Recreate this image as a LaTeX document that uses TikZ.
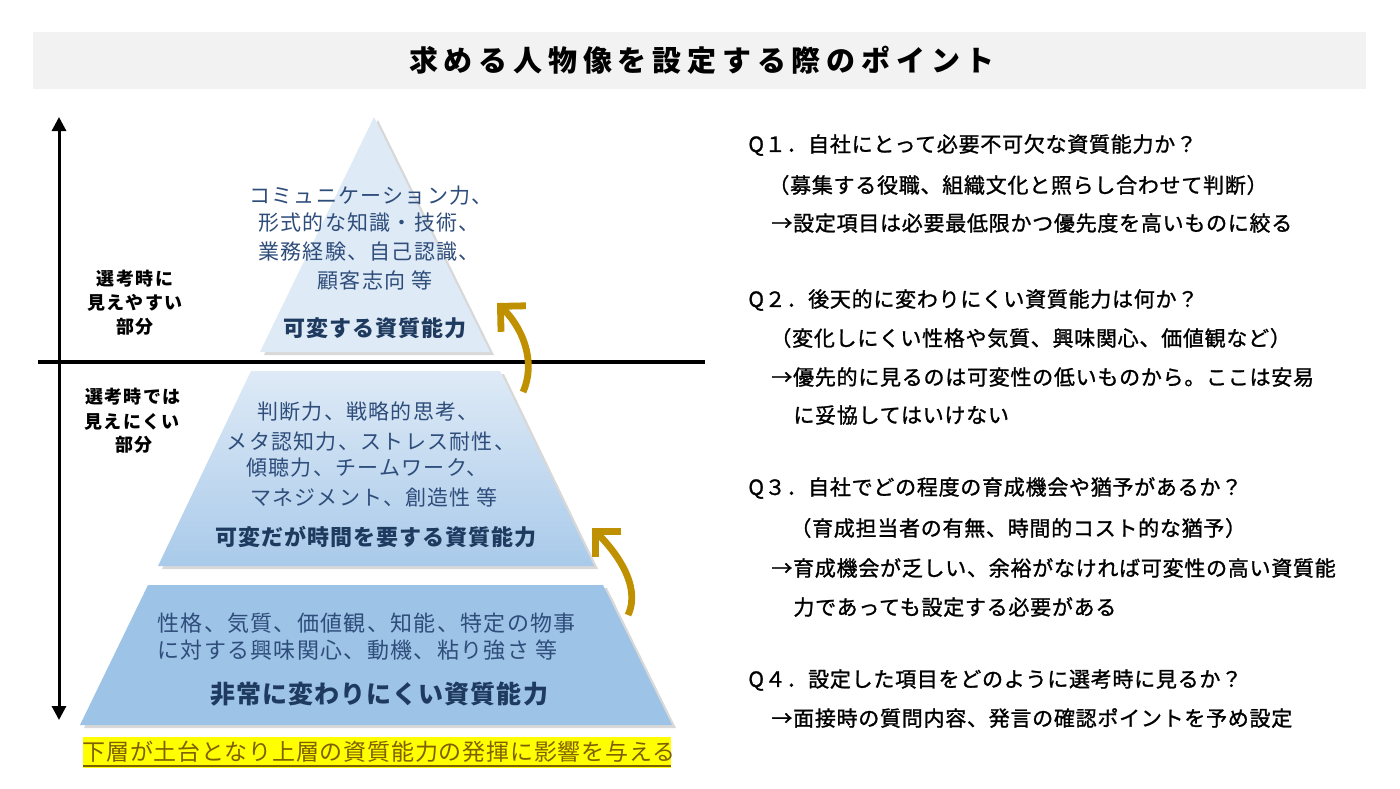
\documentclass[tikz,border=0pt]{standalone}
\usepackage{fontspec}
\setmainfont{Noto Sans CJK JP}
\newfontfamily\jpQ{Noto Sans CJK JP}[LetterSpace=3.5,FakeBold=1.2]
\newfontfamily\jpP{Noto Sans CJK JP}[LetterSpace=6]
\newfontfamily\jpB{Noto Sans CJK JP}[LetterSpace=4.5]
\newfontfamily\jpT{Noto Sans CJK JP}[LetterSpace=20]
\newfontfamily\jpL{Noto Sans CJK JP}[LetterSpace=8]
\newfontfamily\jpY{Noto Sans CJK JP}[LetterSpace=3.5]
\usetikzlibrary{arrows.meta,shadows}
\definecolor{titlebg}{HTML}{F2F2F2}
\definecolor{pyrA}{HTML}{DEEAF6}
\definecolor{pyrB}{HTML}{A9CAEA}
\definecolor{pyrC}{HTML}{9DC3E6}
\definecolor{listtxt}{HTML}{2E4D7B}
\definecolor{boldtxt}{HTML}{1F3A5F}
\definecolor{goldarrow}{HTML}{BF9000}
\definecolor{hltxt}{HTML}{7F6000}
\definecolor{hlbg}{HTML}{FFFF00}
\tikzset{
  qtxt/.style={anchor=west, inner sep=0pt, font=\jpQ\fontsize{10.5}{12}\selectfont},
  listtxt/.style={inner sep=0pt, text=listtxt, font=\jpP\fontsize{10.5}{12}\selectfont},
  listtxtb/.style={inner sep=0pt, text=listtxt, font=\jpP\fontsize{11}{13}\selectfont},
  leveltxt/.style={inner sep=0pt, text=boldtxt, font=\jpB\bfseries\fontsize{11}{13}\selectfont},
  sidetxt/.style={inner sep=0pt, font=\jpL\bfseries\fontsize{9}{11}\selectfont},
  pshadow/.style={drop shadow={shadow xshift=2pt, shadow yshift=-1.5pt, opacity=0.25, fill=black!60}},
  goldarr/.style={draw=goldarrow, line width=3.4pt, -{Straight Barb[length=9pt,width=18pt]}},
}
\begin{document}
\begin{tikzpicture}[x=0.5pt,y=-0.5pt]
\useasboundingbox (0,0) rectangle (1400,788);
\fill[white] (0,0) rectangle (1400,788);
% title band
\fill[titlebg] (33,32) rectangle (1366,89);
\node[inner sep=0pt, font=\jpT\bfseries\fontsize{14.5}{16}\selectfont] (title) at (702,60) {求める人物像を設定する際のポイント};
% pyramid
\path[fill=pyrA, pshadow] (374,117) -- (490,352) -- (260,352) -- cycle;
\path[top color=pyrA, bottom color=pyrB, pshadow] (251,371) -- (500,371) -- (594,566) -- (158,566) -- cycle;
\path[fill=pyrC, pshadow] (148,585) -- (603,585) -- (672,725) -- (80,725) -- cycle;
% axis
\coordinate (vtop) at (59,117);
\coordinate (vbot) at (59,720);
\coordinate (hl) at (38,362);
\coordinate (hr) at (705,362);
\draw[line width=1.5pt, {Triangle[length=7pt,width=7pt]}-{Triangle[length=7pt,width=7pt]}] (vtop) -- (vbot);
\draw[line width=1.8pt] (hl) -- (hr);
% gold arrows
\coordinate (a1s) at (523,392);
\coordinate (a1e) at (497,303);
\coordinate (a2s) at (628,615);
\coordinate (a2e) at (592,528);
\draw[goldarr] (a1s) .. controls (537,360) and (521,326) .. (a1e);
\draw[goldarr] (a2s) .. controls (642,585) and (614,550) .. (a2e);
% top level text
\node[listtxt] (t1) at (371,196) {コミュニケーション力、};
\node[listtxt] (t2) at (369,223) {形式的な知識・技術、};
\node[listtxt] (t3) at (369,252) {業務経験、自己認識、};
\node[listtxt] (t4) at (375,280) {顧客志向 等};
\node[leveltxt] (t5) at (375,328) {可変する資質能力};
% middle level text
\node[listtxt] (m1) at (368,412) {判断力、戦略的思考、};
\node[listtxt] (m2) at (371,442) {メタ認知力、ストレス耐性、};
\node[listtxt] (m3) at (367,468) {傾聴力、チームワーク、};
\node[listtxt] (m4) at (374,497) {マネジメント、創造性 等};
\node[leveltxt] (m5) at (376,537) {可変だが時間を要する資質能力};
% bottom level text
\node[listtxtb, anchor=west] (b1) at (157,623) {性格、気質、価値観、知能、特定の物事};
\node[listtxtb, anchor=west] (b2) at (157,650) {に対する興味関心、動機、粘り強さ 等};
\node[leveltxt, font=\jpB\bfseries\fontsize{12.5}{14}\selectfont] (b3) at (379,694) {非常に変わりにくい資質能力};
% side labels
\node[sidetxt] (s1) at (135,279) {選考時に};
\node[sidetxt] (s2) at (135,303) {見えやすい};
\node[sidetxt] (s3) at (135,327) {部分};
\node[sidetxt] (s4) at (133,397) {選考時では};
\node[sidetxt] (s5) at (132,422) {見えにくい};
\node[sidetxt] (s6) at (134,445) {部分};
% bottom highlight
\fill[hlbg] (83,737) rectangle (671,768);
\node[inner sep=0pt, text=hltxt, font=\jpY\fontsize{11.5}{13}\selectfont] (hltext) at (379,752) {下層が土台となり上層の資質能力の発揮に影響を与える};
\coordinate (ul) at (83,766);
\coordinate (ur) at (671,766);
\draw[hltxt, line width=0.8pt] (ul) -- (ur);
% right side questions
\node[qtxt] (q1) at (748,145) {Q１．自社にとって必要不可欠な資質能力か？};
\node[qtxt] (q1a) at (768,185) {（募集する役職、組織文化と照らし合わせて判断）};
\node[qtxt] (q1b) at (771,223) {→設定項目は必要最低限かつ優先度を高いものに絞る};
\node[qtxt] (q2) at (748,300) {Q２．後天的に変わりにくい資質能力は何か？};
\node[qtxt] (q2a) at (770,338) {（変化しにくい性格や気質、興味関心、価値観など）};
\node[qtxt] (q2b) at (771,377) {→優先的に見るのは可変性の低いものから。ここは安易};
\node[qtxt] (q2c) at (793,415) {に妥協してはいけない};
\node[qtxt] (q3) at (748,488) {Q３．自社でどの程度の育成機会や猶予があるか？};
\node[qtxt] (q3a) at (790,528) {（育成担当者の有無、時間的コスト的な猶予）};
\node[qtxt] (q3b) at (771,568) {→育成機会が乏しい、余裕がなければ可変性の高い資質能};
\node[qtxt] (q3c) at (793,607) {力であっても設定する必要がある};
\node[qtxt] (q4) at (748,680) {Q４．設定した項目をどのように選考時に見るか？};
\node[qtxt] (q4a) at (771,718) {→面接時の質問内容、発言の確認ポイントを予め設定};
\end{tikzpicture}
\end{document}
